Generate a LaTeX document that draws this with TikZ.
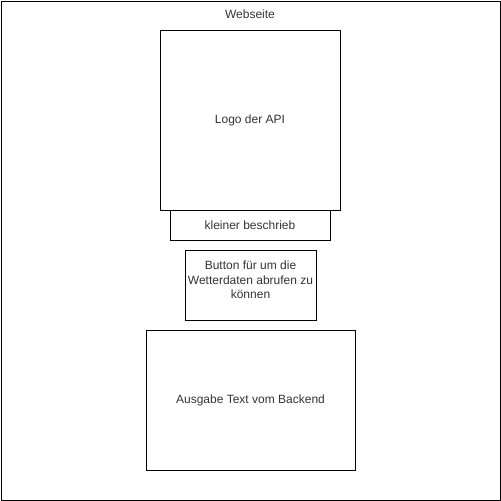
\documentclass[tikz,border=0pt]{standalone}
\usepackage{fontspec}
\setmainfont{Liberation Sans}
\usetikzlibrary{positioning}
\definecolor{textgray}{HTML}{333333}
\begin{document}
\begin{tikzpicture}[x=1pt,y=-1pt]

        % Stile
        \tikzset{frame/.style={draw=black, line width=1pt, inner sep=0pt, outer sep=0pt},
                 box/.style={draw=black, line width=1pt, inner sep=2pt, outer sep=0pt, align=center,
                             text=textgray, font=\fontsize{12}{14.5}\selectfont}}

        % Rahmen der Webseite
        \useasboundingbox (0,0) rectangle (501,501);
        \node (seite) [frame, minimum width=499pt, minimum height=499pt] at (250.5,250.5) {};
        \node (titel) [text=textgray, font=\fontsize{12}{14.5}\selectfont] at (250,14) {Webseite};

        % Bereiche
        \node (logo) [box, minimum width=180pt, minimum height=180pt] at (250,120) {Logo der API};
        \node (beschrieb) [box, minimum width=160pt, minimum height=30pt, below=0pt of logo] {kleiner beschrieb};
        \node (button) [box, minimum width=131pt, minimum height=70pt] at (250.5,285) {};
        \node (buttontext) [text=textgray, font=\fontsize{12}{14.5}\selectfont, align=center] at (250.5,280)
            {Button für um die\\Wetterdaten abrufen zu\\können};
        \node (ausgabe) [box, minimum width=209pt, minimum height=140pt] at (250.5,400) {Ausgabe Text vom Backend};

\end{tikzpicture}
\end{document}
